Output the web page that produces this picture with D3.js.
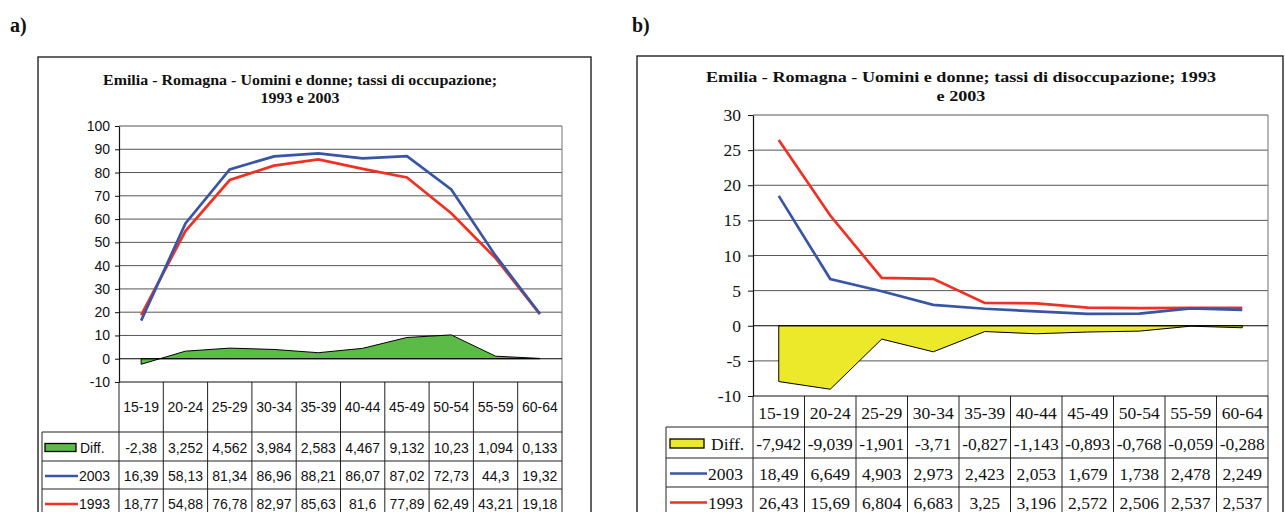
<!DOCTYPE html>
<html><head><meta charset="utf-8">
<script src="https://cdn.jsdelivr.net/npm/d3@7"></script>
<style>
html,body{margin:0;padding:0;background:#fff;}
svg{display:block;}
</style></head>
<body>
<svg id="c" width="1285" height="512"></svg>
<script>
// ---- data ----
const categories = ["15-19","20-24","25-29","30-34","35-39","40-44","45-49","50-54","55-59","60-64"];

const occDiff = [-2.38, 3.252, 4.562, 3.984, 2.583, 4.467, 9.132, 10.23, 1.094, 0.133];
const occ2003 = [16.39, 58.13, 81.34, 86.96, 88.21, 86.07, 87.02, 72.73, 44.3, 19.32];
const occ1993 = [18.77, 54.88, 76.78, 82.97, 85.63, 81.6, 77.89, 62.49, 43.21, 19.18];
const occTicks = [-10, 0, 10, 20, 30, 40, 50, 60, 70, 80, 90, 100];

const disDiff = [-7.942, -9.039, -1.901, -3.71, -0.827, -1.143, -0.893, -0.768, -0.059, -0.288];
const dis2003 = [18.49, 6.649, 4.903, 2.973, 2.423, 2.053, 1.679, 1.738, 2.478, 2.249];
const dis1993 = [26.43, 15.69, 6.804, 6.683, 3.25, 3.196, 2.572, 2.506, 2.537, 2.537];
const disTicks = [-10, -5, 0, 5, 10, 15, 20, 25, 30];

const seriesNames = ["Diff.", "2003", "1993"];
const titleA = ["Emilia - Romagna - Uomini e donne; tassi di occupazione;", "1993 e 2003"];
const titleB = ["Emilia - Romagna - Uomini e donne; tassi di disoccupazione; 1993", "e 2003"];

const BLUE = "#3a55a6", RED = "#ee3124", GREEN = "#5cbb46", YELLOW = "#ece82a";

const svg = d3.select("#c");
const fmt = v => String(v).replace(".", ",");

function drawChart(cfg) {
  const g = svg.append("g");
  const P = cfg.plot;
  // outer box
  g.append("rect").attr("x", cfg.box.x).attr("y", cfg.box.y)
    .attr("width", cfg.box.w).attr("height", cfg.box.h)
    .attr("fill", "none").attr("stroke", "#222").attr("stroke-width", 1.4);

  // title
  const tg = g.append("g").attr("font-family", "'Liberation Serif', 'Times New Roman', serif")
    .attr("font-weight", "bold").attr("font-size", cfg.titleSize + "px").attr("fill", "#111");
  const t1 = tg.append("text").attr("x", cfg.titleX).attr("y", cfg.titleY[0])
    .attr("text-anchor", "middle").text(cfg.title[0]);
  const nat = t1.node().getComputedTextLength();
  const ratio = cfg.titleW / nat;
  t1.attr("textLength", cfg.titleW).attr("lengthAdjust", "spacingAndGlyphs");
  const t2 = tg.append("text").attr("x", cfg.titleX).attr("y", cfg.titleY[1])
    .attr("text-anchor", "middle").text(cfg.title[1]);
  const nat2 = t2.node().getComputedTextLength();
  t2.attr("textLength", nat2 * ratio).attr("lengthAdjust", "spacingAndGlyphs");

  const x = d3.scaleBand().domain(categories).range([P.left, P.right]);
  const y = d3.scaleLinear().domain([cfg.ticks[0], cfg.ticks[cfg.ticks.length - 1]]).range([P.bottom, P.top]);
  const cx = c => x(c) + x.bandwidth() / 2;

  // gridlines
  g.append("g").selectAll("line").data(cfg.ticks.filter(t => t !== 0 && t !== cfg.ticks[0])).join("line")
    .attr("x1", P.left).attr("x2", P.right).attr("y1", d => y(d)).attr("y2", d => y(d))
    .attr("stroke", "#555").attr("stroke-width", 1);
  // plot right border
  g.append("line").attr("x1", P.right).attr("x2", P.right).attr("y1", P.top).attr("y2", P.bottom)
    .attr("stroke", "#888").attr("stroke-width", 1.2);

  // area (diff)
  const area = d3.area().x((d, i) => cx(categories[i])).y0(y(0)).y1(d => y(d));
  g.append("path").datum(cfg.diff).attr("d", area)
    .attr("fill", cfg.areaColor).attr("stroke", "#000").attr("stroke-width", 1);
  // zero line
  g.append("line").attr("x1", P.left).attr("x2", P.right).attr("y1", y(0)).attr("y2", y(0))
    .attr("stroke", "#000").attr("stroke-width", 1.2);

  const line = d3.line().x((d, i) => cx(categories[i])).y(d => y(d));
  g.append("path").datum(cfg.s1993).attr("d", line).attr("fill", "none")
    .attr("stroke", RED).attr("stroke-width", 2.7);
  g.append("path").datum(cfg.s2003).attr("d", line).attr("fill", "none")
    .attr("stroke", BLUE).attr("stroke-width", 2.7);

  // y axis
  const axis = d3.axisLeft(y).tickValues(cfg.ticks).tickSize(cfg.tickSize)
    .tickPadding(cfg.tickPad).tickSizeOuter(0).tickFormat(d => String(d));
  const ag = g.append("g").attr("transform", `translate(${P.left},0)`).call(axis);
  ag.select(".domain").attr("stroke", "#111").attr("stroke-width", 1.2);
  ag.selectAll(".tick line").attr("stroke", "#111");
  ag.selectAll(".tick text").attr("font-family", cfg.font).attr("font-size", cfg.fontSize + "px")
    .attr("fill", "#111");

  // table
  const R = cfg.rows;
  const tb = g.append("g");
  const bounds = categories.map(c => x(c)).concat([P.right]);
  tb.selectAll("line.v").data(bounds).join("line")
    .attr("x1", d => d).attr("x2", d => d).attr("y1", R[0]).attr("y2", R[4])
    .attr("stroke", "#222").attr("stroke-width", 1);
  tb.append("line").attr("x1", P.left).attr("x2", P.right).attr("y1", R[0]).attr("y2", R[0])
    .attr("stroke", "#111").attr("stroke-width", 1.2);
  [R[1], R[2], R[3]].forEach(yy => {
    tb.append("line").attr("x1", cfg.legLeft).attr("x2", P.right).attr("y1", yy).attr("y2", yy)
      .attr("stroke", "#222").attr("stroke-width", 1);
  });
  tb.append("line").attr("x1", cfg.legLeft).attr("x2", cfg.legLeft).attr("y1", R[1]).attr("y2", R[4])
    .attr("stroke", "#222").attr("stroke-width", 1);

  const txt = tb.append("g").attr("font-family", cfg.font).attr("font-size", cfg.fontSize + "px")
    .attr("fill", "#111").attr("text-anchor", "middle").attr("dominant-baseline", "central");
  txt.selectAll("text.cat").data(categories).join("text").attr("class", "cat")
    .attr("x", d => cx(d)).attr("y", (R[0] + R[1]) / 2 + cfg.catDy).text(d => d);
  const rowsData = [cfg.diff, cfg.s2003, cfg.s1993];
  rowsData.forEach((vals, ri) => {
    txt.append("g").selectAll("text").data(vals).join("text")
      .attr("x", (d, i) => cx(categories[i])).attr("y", (R[ri + 1] + R[ri + 2]) / 2 + cfg.rowDy)
      .text(d => fmt(d));
  });

  // legend column
  const L = cfg.leg;
  const lg = tb.append("g");
  const ym = ri => (R[ri + 1] + R[ri + 2]) / 2 + cfg.rowDy;
  lg.append("rect").attr("x", L.x0).attr("y", ym(0) - L.rh / 2).attr("width", L.rw).attr("height", L.rh)
    .attr("fill", cfg.areaColor).attr("stroke", "#000").attr("stroke-width", 1.3);
  lg.append("line").attr("x1", L.x0).attr("x2", L.x0 + L.lw).attr("y1", ym(1)).attr("y2", ym(1))
    .attr("stroke", BLUE).attr("stroke-width", 2.7);
  lg.append("line").attr("x1", L.x0).attr("x2", L.x0 + L.lw).attr("y1", ym(2)).attr("y2", ym(2))
    .attr("stroke", RED).attr("stroke-width", 2.7);
  const lt = lg.append("g").attr("font-family", cfg.font).attr("font-size", cfg.fontSize + "px")
    .attr("fill", "#111").attr("dominant-baseline", "central");
  seriesNames.forEach((n, ri) => {
    lt.append("text").attr("x", ri === 0 ? L.tx0 : L.tx).attr("y", ym(ri)).text(n);
  });

  // panel letter
  svg.append("text").attr("x", cfg.letter[0]).attr("y", cfg.letter[1])
    .attr("font-family", "'Liberation Serif', serif").attr("font-weight", "bold")
    .attr("font-size", "20px").attr("fill", "#111").text(cfg.letter[2]);
}

drawChart({
  box: {x: 38, y: 57, w: 553, h: 470},
  title: titleA, titleX: 300, titleY: [85, 103], titleW: 394, titleSize: 15,
  plot: {left: 119, right: 562, top: 126, bottom: 382},
  ticks: occTicks, tickSize: 4, tickPad: 5,
  font: "'Liberation Sans', Arial, sans-serif", fontSize: 14,
  rows: [382, 432, 461, 489, 517], catDy: 0, rowDy: 1,
  legLeft: 42,
  leg: {x0: 45, rw: 31, rh: 8, lw: 33, tx0: 80, tx: 79},
  diff: occDiff, s2003: occ2003, s1993: occ1993, areaColor: GREEN,
  letter: [10, 32, "a)"]
});

drawChart({
  box: {x: 637, y: 56, w: 646, h: 470},
  title: titleB, titleX: 961, titleY: [82, 101], titleW: 510, titleSize: 15,
  plot: {left: 753, right: 1268, top: 115, bottom: 396},
  ticks: disTicks, tickSize: 5, tickPad: 7,
  font: "'Liberation Serif', 'Times New Roman', serif", fontSize: 17.5,
  rows: [396, 427, 458, 487, 516], catDy: 1, rowDy: 1,
  legLeft: 666,
  leg: {x0: 670, rw: 34, rh: 9, lw: 37, tx0: 711, tx: 708},
  diff: disDiff, s2003: dis2003, s1993: dis1993, areaColor: YELLOW,
  letter: [632, 32, "b)"]
});
</script>
</body></html>
